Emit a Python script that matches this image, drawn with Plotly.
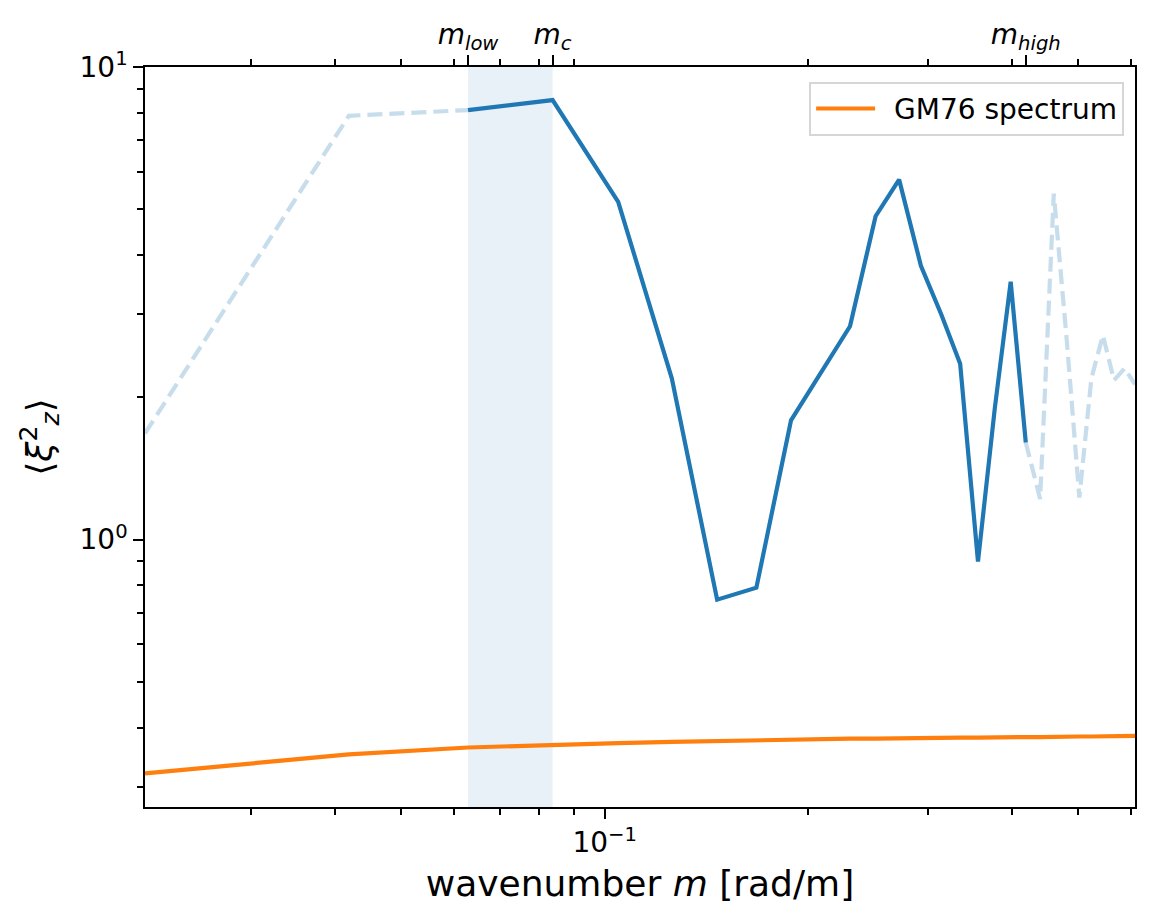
import math
import plotly.graph_objects as go

# wavenumber m [rad/m]
m = [0.02094, 0.04189, 0.06283, 0.08378, 0.10472, 0.12566, 0.14661, 0.16755,
     0.18850, 0.20944, 0.23038, 0.25133, 0.27227, 0.29322, 0.31416, 0.33510,
     0.35605, 0.37699, 0.39794, 0.41888, 0.43982, 0.46077, 0.48171, 0.50265,
     0.52360, 0.54454, 0.56549, 0.58643, 0.60737]

# <xi_z^2> spectrum
xi2 = [1.677, 7.884, 8.107, 8.513, 5.184, 2.193, 0.746, 0.791,
       1.787, 2.270, 2.827, 4.833, 5.776, 3.797, 2.997, 2.354,
       0.898, 1.895, 3.512, 1.605, 1.218, 5.395, 2.627, 1.227,
       2.193, 2.705, 2.173, 2.303, 2.130]

# GM76 spectrum
gm76 = [0.320, 0.351, 0.363, 0.368, 0.371, 0.373, 0.375, 0.376,
        0.377, 0.378, 0.379, 0.379, 0.380, 0.380, 0.381, 0.381,
        0.381, 0.382, 0.382, 0.382, 0.382, 0.383, 0.383, 0.383,
        0.383, 0.383, 0.383, 0.384, 0.384]

i_low, i_c, i_high = 2, 3, 19
m_low, m_c, m_high = m[i_low], m[i_c], m[i_high]

top_ticks = [m_low, m_c, m_high]
top_labels = ["<i>m</i><sub><i>low</i></sub>", "<i>m</i><sub><i>c</i></sub>",
              "<i>m</i><sub><i>high</i></sub>"]
x_major = [0.1]
x_major_labels = ["10<sup>−1</sup>"]
x_minor = [0.03, 0.04, 0.05, 0.06, 0.07, 0.08, 0.09, 0.2, 0.3, 0.4, 0.5, 0.6]
y_major = [1, 10]
y_major_labels = ["10<sup>0</sup>", "10<sup>1</sup>"]
y_minor = [0.3, 0.4, 0.5, 0.6, 0.7, 0.8, 0.9, 2, 3, 4, 5, 6, 7, 8, 9]

BLUE = "#1f77b4"
LIGHT = "rgba(31,119,180,0.25)"
ORANGE = "#ff7f0e"
FONT = "DejaVu Sans"
LW = 4.2

fig = go.Figure()

fig.add_trace(go.Scatter(x=m[:i_low + 1], y=xi2[:i_low + 1], mode="lines",
                         line=dict(color=LIGHT, width=LW, dash="15px,7px"),
                         showlegend=False, hoverinfo="skip"))
fig.add_trace(go.Scatter(x=m[i_high:], y=xi2[i_high:], mode="lines",
                         line=dict(color=LIGHT, width=LW, dash="15px,7px"),
                         showlegend=False, hoverinfo="skip"))
fig.add_trace(go.Scatter(x=m[i_low:i_high + 1], y=xi2[i_low:i_high + 1], mode="lines",
                         line=dict(color=BLUE, width=LW), showlegend=False))
fig.add_trace(go.Scatter(x=m, y=gm76, mode="lines", name="\u2002GM76 spectrum",
                         line=dict(color=ORANGE, width=LW)))
# invisible trace on the top axis
fig.add_trace(go.Scatter(x=[m[0], m[-1]], y=[1, 1], xaxis="x2", mode="lines",
                         line=dict(width=0), opacity=0, showlegend=False,
                         hoverinfo="skip"))

fig.add_vrect(x0=m_low, x1=m_c, fillcolor=BLUE, opacity=0.1, line_width=0,
              layer="below")

xr = [math.log10(m[0]), math.log10(m[-1])]

axis_common = dict(
    showgrid=False, zeroline=False, showline=True, linecolor="black", linewidth=2.2,
    ticks="outside", ticklen=9.7, tickwidth=2.2, tickcolor="black",
    tickfont=dict(family=FONT, size=28, color="black"),
)

fig.update_layout(
    width=1157, height=923,
    margin=dict(l=145, r=22, t=67, b=116, pad=0),
    paper_bgcolor="white", plot_bgcolor="white",
    font=dict(family=FONT, color="black"),
    xaxis=dict(
        type="log", range=xr, tickmode="array", tickvals=x_major,
        ticktext=x_major_labels,
        minor=dict(tickmode="array", tickvals=x_minor, ticks="outside",
                   ticklen=5.6, tickwidth=1.7, tickcolor="black", showgrid=False),
        title=dict(text="wavenumber <i>m</i> [rad/m]",
                   font=dict(family=FONT, size=36, color="black"), standoff=12),
        **axis_common,
    ),
    xaxis2=dict(
        type="log", range=xr, overlaying="x", side="top", anchor="y",
        tickmode="array", tickvals=top_ticks, ticktext=top_labels,
        minor=dict(tickmode="array", tickvals=x_minor, ticks="outside",
                   ticklen=5.6, tickwidth=1.7, tickcolor="black", showgrid=False),
        **axis_common,
    ),
    yaxis=dict(
        type="log", range=[-0.566, 1.0], tickmode="array", tickvals=y_major,
        ticktext=y_major_labels, mirror=True,
        minor=dict(tickmode="array", tickvals=y_minor, ticks="outside",
                   ticklen=5.6, tickwidth=1.7, tickcolor="black", showgrid=False),
        title=dict(text="⟨<i>ξ</i><sup>2</sup><sub><i>z</i></sub>⟩",
                   font=dict(family=FONT, size=36, color="black"), standoff=16),
        **axis_common,
    ),
    legend=dict(x=0.989, y=0.98, xanchor="right", yanchor="top",
                bgcolor="rgba(255,255,255,0.8)", bordercolor="#d6d6d6",
                borderwidth=2, font=dict(family=FONT, size=28, color="black"),
                itemwidth=59),
)

fig.write_html("out.html")
